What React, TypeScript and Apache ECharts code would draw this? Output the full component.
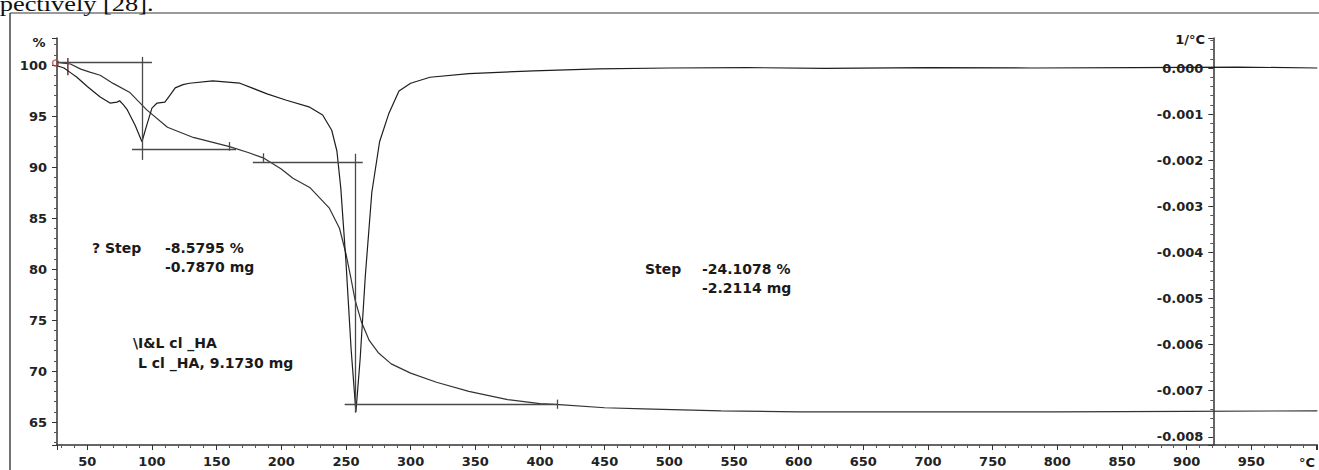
import React, { useEffect, useRef } from "react";
import * as echarts from "echarts";

// TG curve (weight %) vs temperature (°C)
const tgTemp = [26.6, 30, 37, 45, 52, 60, 70, 83, 96, 112, 132, 160, 175, 186, 200, 209, 222, 237, 245, 250, 254, 257, 262, 268, 275, 285, 300, 320, 345, 375, 400, 415, 450, 480, 540, 600, 700, 800, 900, 1001];
const tgValue = [100.3, 100.2, 100.1, 99.6, 99.3, 99.0, 98.2, 97.3, 95.6, 93.9, 92.9, 92.0, 91.4, 90.9, 89.8, 88.9, 88.0, 86.0, 84.0, 81.5, 79.0, 77.0, 74.8, 73.0, 71.8, 70.7, 69.8, 68.9, 68.0, 67.2, 66.8, 66.7, 66.4, 66.3, 66.1, 66.0, 66.0, 66.0, 66.05, 66.1];

// DTG curve (1/°C) vs temperature (°C)
const dtgTemp = [26.6, 32, 37, 42, 50, 60, 67.6, 73, 75, 78, 81, 87, 92.3, 96, 100, 104, 110, 114, 118, 124, 129, 147, 168, 189, 204, 222, 232, 239, 243, 246, 250, 254, 257.7, 261, 265, 270, 276, 283, 291, 300, 315, 345, 395, 445, 500, 560, 620, 700, 780, 860, 940, 1001];
const dtgValue = [0.00005, 0.0, -0.0001, -0.0002, -0.0004, -0.00063, -0.00076, -0.00074, -0.00071, -0.0008, -0.00091, -0.00124, -0.0016, -0.00124, -0.00087, -0.00076, -0.00074, -0.00059, -0.00043, -0.00036, -0.00033, -0.00028, -0.00033, -0.00056, -0.0007, -0.00085, -0.00102, -0.00135, -0.0018, -0.0026, -0.0042, -0.0061, -0.00746, -0.0063, -0.0045, -0.0027, -0.0016, -0.001, -0.0005, -0.00033, -0.0002, -0.00012, -0.00006, -0.00002, 0.0, 0.00001, -0.00001, 0.00001, 0.0, 0.00001, 0.00002, 0.0];

// Step evaluation lines ([T, %] endpoints)
const stepSegments = [
  [[26.6, 100.3], [100, 100.3]],
  [[92.3, 100.8], [92.3, 90.7]],
  [[84.6, 91.7], [165, 91.7]],
  [[178, 90.5], [263, 90.5]],
  [[257.3, 91.3], [257.3, 65.9]],
  [[249, 66.7], [413, 66.7]],
];
// small limit marks on the TG curve
const limitMarks = [
  [[160, 92.45], [160, 91.6]],
  [[186, 91.35], [186, 90.5]],
  [[413, 67.2], [413, 66.3]],
];
const startMark = [[35, 100.7], [35, 99.0]];
const startPoint = [[25.5, 100.2]];

// Annotation texts
const step1Label = "? Step";
const step1Lines = ["-8.5795 %", "-0.7870 mg"];
const sampleLines = ["\\I&L cl _HA", "L cl _HA, 9.1730 mg"];
const step2Label = "Step";
const step2Lines = ["-24.1078 %", "-2.2114 mg"];

const FONT = '"DejaVu Sans", "Liberation Sans", Arial, sans-serif';

export default function App() {
  const ref = useRef<HTMLDivElement>(null);
  useEffect(() => {
    document.body.style.margin = "0";
    const chart = echarts.init(ref.current!, null, { renderer: "svg" });
    const labelStyle = { fontFamily: FONT, fontWeight: "bold" as const, fontSize: 13, color: "#222" };
    const axisLine = { show: true, onZero: false, lineStyle: { color: "#333", width: 1.5 } };
    const txt = (text: string, x: number, y: number, size = 14, align = "left") => ({
      type: "text",
      x,
      y,
      silent: true,
      style: {
        text,
        fill: "#1a1a1a",
        font: `bold ${size}px "DejaVu Sans", sans-serif`,
        textAlign: align,
        align,
        textVerticalAlign: "middle",
        verticalAlign: "middle",
      },
    });
    chart.setOption({
      animation: false,
      backgroundColor: "#fff",
      grid: { left: 57, right: 0, top: 38, bottom: 25, containLabel: false },
      xAxis: {
        type: "value",
        min: 26.6,
        max: 1001,
        splitNumber: 20,
        axisLine,
        axisTick: { show: true, length: 5, lineStyle: { color: "#333" } },
        minorTick: { show: true, splitNumber: 5, length: 3, lineStyle: { color: "#555" } },
        splitLine: { show: false },
        axisLabel: {
          ...labelStyle,
          margin: 10,
          showMinLabel: false,
          showMaxLabel: false,
          formatter: (v: number) => (Math.abs(v % 50) < 1e-6 && v < 999 ? String(Math.round(v)) : ""),
        },
      },
      yAxis: [
        {
          type: "value",
          min: 62.75,
          max: 102.65,
          splitNumber: 8,
          position: "left",
          axisLine,
          axisTick: { show: true, length: 5, lineStyle: { color: "#333" } },
          minorTick: { show: true, splitNumber: 5, length: 3, lineStyle: { color: "#555" } },
          splitLine: { show: false },
          axisLabel: { ...labelStyle, margin: 10, showMinLabel: false, showMaxLabel: false },
        },
        {
          type: "value",
          min: -0.008178,
          max: 0.000651,
          splitNumber: 9,
          position: "right",
          offset: -104,
          axisLine,
          axisTick: { show: true, inside: true, length: 5, lineStyle: { color: "#333" } },
          minorTick: { show: true, splitNumber: 5, length: 3, lineStyle: { color: "#555" } },
          splitLine: { show: false },
          axisLabel: {
            ...labelStyle,
            inside: true,
            margin: 10,
            showMinLabel: false,
            showMaxLabel: false,
            formatter: (v: number) => (Math.abs(v) < 1e-9 ? "0.000" : v.toFixed(3)),
          },
        },
      ],
      series: [
        {
          name: "TG",
          type: "line",
          yAxisIndex: 0,
          showSymbol: false,
          symbol: "none",
          lineStyle: { color: "#333", width: 1.2 },
          data: tgTemp.map((t, i) => [t, tgValue[i]]),
          markLine: {
            silent: true,
            symbol: ["none", "none"],
            label: { show: false },
            lineStyle: { color: "#4a4a4a", width: 1.3, type: "solid" },
            data: [...stepSegments, ...limitMarks].map((s) => [{ coord: s[0] }, { coord: s[1] }]),
          },
        },
        {
          name: "start",
          type: "line",
          yAxisIndex: 0,
          symbol: "none",
          lineStyle: { color: "#7a2f33", width: 1.5 },
          data: startMark,
        },
        {
          name: "start point",
          type: "scatter",
          yAxisIndex: 0,
          clip: false,
          symbol: "circle",
          symbolSize: 6,
          itemStyle: { color: "rgba(0,0,0,0)", borderColor: "#b4474c", borderWidth: 1.5 },
          data: startPoint,
        },
        {
          name: "DTG",
          type: "line",
          yAxisIndex: 1,
          showSymbol: false,
          symbol: "none",
          lineStyle: { color: "#1e1e1e", width: 1.2 },
          data: dtgTemp.map((t, i) => [t, dtgValue[i]]),
        },
      ],
      graphic: [
        { type: "line", silent: true, shape: { x1: 10, y1: 13, x2: 1319, y2: 13 }, style: { stroke: "#9a9a9a", lineWidth: 2 } },
        { type: "line", silent: true, shape: { x1: 10, y1: 13, x2: 10, y2: 470 }, style: { stroke: "#444", lineWidth: 1.5 } },
        {
          type: "text",
          x: -31,
          y: -8,
          scaleX: 1.2,
          silent: true,
          style: {
            text: "respectively [28].",
            fill: "#111",
            font: '22px "Liberation Serif", serif',
            textVerticalAlign: "top",
            verticalAlign: "top",
          },
        },
        txt("%", 39, 42, 13, "center"),
        txt("1/°C", 1205, 39, 13, "right"),
        txt("°C", 1307, 462, 13, "center"),
        txt(step1Label, 92, 248),
        txt(step1Lines[0], 165, 248),
        txt(step1Lines[1], 165, 267),
        txt(sampleLines[0], 133, 343),
        txt(sampleLines[1], 138, 363),
        txt(step2Label, 645, 269),
        txt(step2Lines[0], 702, 269),
        txt(step2Lines[1], 702, 288),
      ],
    });
    return () => chart.dispose();
  }, []);
  return <div ref={ref} style={{ position: "absolute", left: 0, top: 0, width: 1319, height: 470 }} />;
}
